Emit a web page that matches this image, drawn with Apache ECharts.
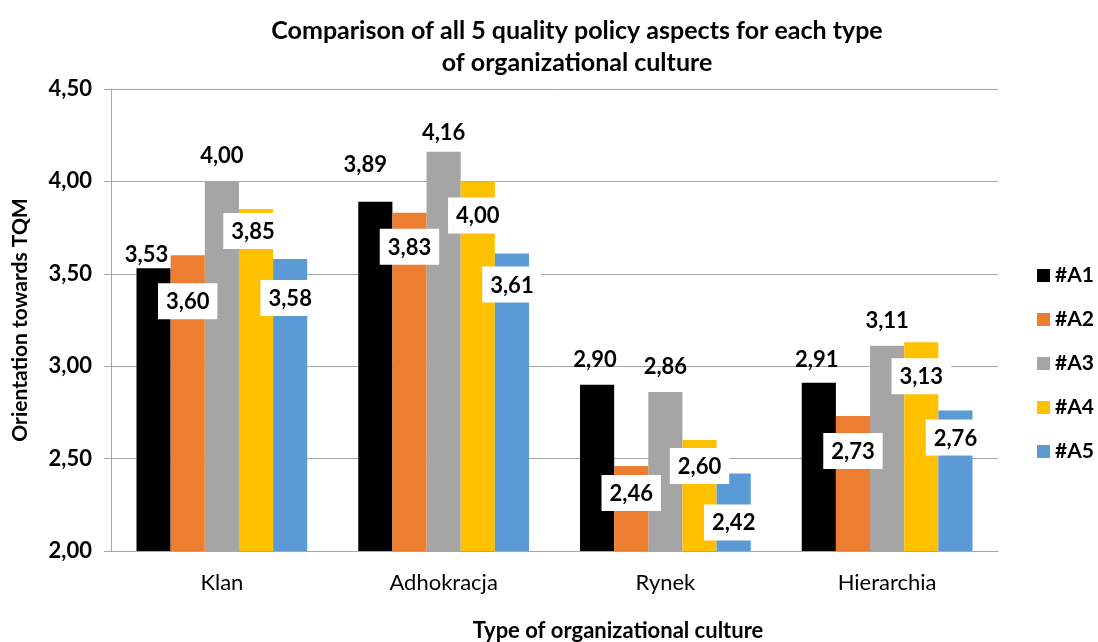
<!DOCTYPE html>
<html>
<head>
<meta charset="utf-8">
<script src="https://cdn.jsdelivr.net/npm/echarts@6/dist/echarts.min.js"></script>
<style>
  html, body { margin: 0; padding: 0; background: #fff; }
  #chart { width: 1098px; height: 642px; }
</style>
</head>
<body>
<div id="chart"></div>
<script>
const categories = ['Klan', 'Adhokracja', 'Rynek', 'Hierarchia']
const seriesNames = ['#A1', '#A2', '#A3', '#A4', '#A5']
const a1 = [3.53, 3.89, 2.90, 2.91]
const a2 = [3.60, 3.83, 2.46, 2.73]
const a3 = [4.00, 4.16, 2.86, 3.11]
const a4 = [3.85, 4.00, 2.60, 3.13]
const a5 = [3.58, 3.61, 2.42, 2.76]
const colors = ['#000000', '#ED7D31', '#A5A5A5', '#FFC000', '#5B9BD5']

// label placement (style only): vertical offsets per series / category, px
const labelDy = [
  [-2, -26, -14, -12],
  [28, 16, 9, 17],
  [-14, -8, -14, -14],
  [4, 16, 8, 16],
  [21, 13, 31, 9]
]
const labelDx = [[-7, -10, -2, -2], [0, 0, 0, 0], [0, 0, 0, 0], [-3, 0, 0, 0], [0, 0, 0, 0]]
const boxedSeries = [false, true, false, true, true]

const font = 'Lato, "Open Sans", sans-serif'
const fmt = v => v.toFixed(2).replace('.', ',')

const values = [a1, a2, a3, a4, a5]

function itemLabel(i, j) {
  const base = { show: true, color: '#000', fontFamily: font, fontWeight: 'bold', fontSize: 22, formatter: p => fmt(p.value) }
  if (boxedSeries[i]) {
    return Object.assign(base, { position: 'insideTop', distance: 0, offset: [labelDx[i][j], labelDy[i][j]], backgroundColor: '#fff', padding: [8, 8, 6, 8] })
  }
  return Object.assign(base, { position: 'top', distance: 0, offset: [labelDx[i][j], labelDy[i][j]] })
}

const chart = echarts.init(document.getElementById('chart'), null, { renderer: 'canvas' })
chart.setOption({
  backgroundColor: '#fff',
  animation: false,
  title: [{
    text: 'Comparison of all 5 quality policy aspects for each type\nof organizational culture',
    left: 572, top: 10, textAlign: 'center',
    textStyle: { fontFamily: font, fontWeight: 'bold', fontSize: 25, lineHeight: 32, color: '#000' }
  }, {
    text: 'Type of organizational culture',
    left: 613, top: 615, textAlign: 'center',
    textStyle: { fontFamily: font, fontWeight: 'bold', fontSize: 22, color: '#000' }
  }],
  legend: {
    orient: 'vertical', left: 1032, top: 260, itemGap: 23,
    itemWidth: 13, itemHeight: 13, icon: 'rect',
    textStyle: { fontFamily: font, fontWeight: 'bold', fontSize: 21, color: '#000' },
    data: seriesNames
  },
  grid: { left: 111, right: 100, top: 89, bottom: 91, outerBoundsMode: 'none', containLabel: false },
  xAxis: {
    type: 'category', data: categories,
    axisLine: { lineStyle: { color: '#A6A6A6', width: 1 } },
    axisTick: { show: false },
    axisLabel: { color: '#000', fontFamily: font, fontSize: 22, margin: 21 }
  },
  yAxis: {
    type: 'value', min: 2, max: 4.5, interval: 0.5,
    name: 'Orientation towards TQM', nameLocation: 'middle', nameGap: 80, nameRotate: 90,
    nameTextStyle: { fontFamily: font, fontWeight: 'bold', fontSize: 21, color: '#000' },
    axisLine: { show: true, lineStyle: { color: '#A6A6A6' } },
    axisTick: { show: true, inside: false, length: 7, lineStyle: { color: '#A6A6A6' } },
    splitLine: { lineStyle: { color: '#A6A6A6' } },
    axisLabel: { color: '#000', fontFamily: font, fontWeight: 'bold', fontSize: 22, margin: 19, formatter: v => fmt(v) }
  },
  series: seriesNames.map((name, i) => ({
    name, type: 'bar',
    data: values[i].map((v, j) => ({ value: v, label: itemLabel(i, j) })),
    barGap: '0%', barCategoryGap: '23%',
    itemStyle: { color: colors[i] },
    z: boxedSeries[i] ? 3 : 2
  }))
})
</script>
</body>
</html>
